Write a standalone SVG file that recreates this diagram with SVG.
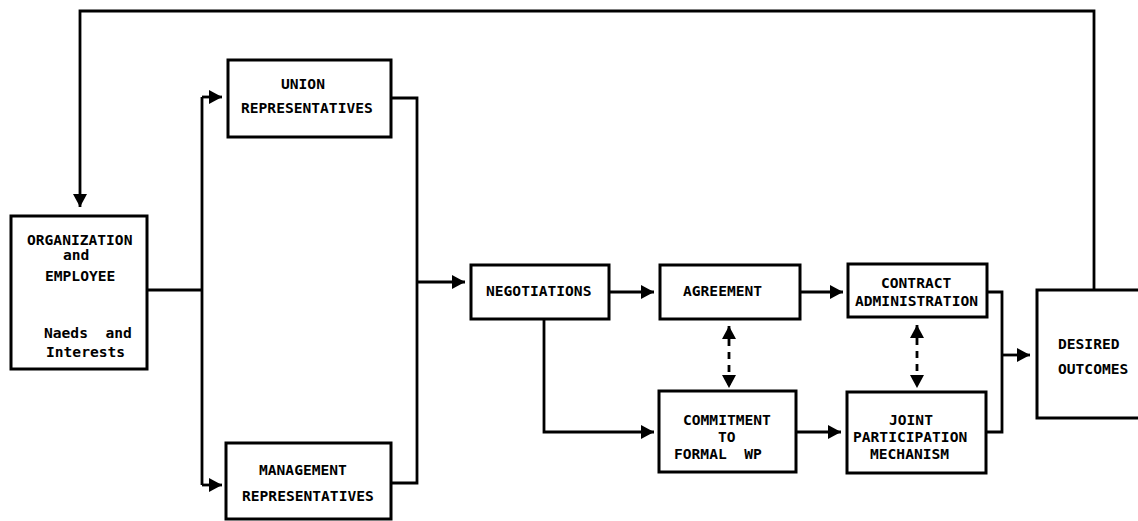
<svg xmlns="http://www.w3.org/2000/svg" width="1138" height="521" viewBox="0 0 1138 521">
<style>
.box{fill:#fff;stroke:#000;stroke-width:3}
.ln{fill:none;stroke:#000;stroke-width:2.8}
.dash{fill:none;stroke:#000;stroke-width:2.8;stroke-dasharray:7 6}
text{font-family:"DejaVu Sans Mono","Liberation Mono",monospace;font-weight:bold;font-size:14.6px;fill:#000}
</style>
<defs>
<marker id="arr" markerUnits="userSpaceOnUse" markerWidth="16" markerHeight="16" refX="13" refY="7" orient="auto-start-reverse">
<path d="M0,0 L13,7 L0,14 z" fill="#000"/>
</marker>
</defs>
<rect width="1138" height="521" fill="#fff"/>
<g id="connectors">
<path class="ln" d="M1094,290 V11 H80 V207" marker-end="url(#arr)"/>
<path class="ln" d="M147,290 H202"/>
<path class="ln" d="M202,97 V485"/>
<path class="ln" d="M202,97 H222" marker-end="url(#arr)"/>
<path class="ln" d="M202,485 H222" marker-end="url(#arr)"/>
<path class="ln" d="M391,98 H417 V483 H391"/>
<path class="ln" d="M417,282 H465" marker-end="url(#arr)"/>
<path class="ln" d="M609,292 H654" marker-end="url(#arr)"/>
<path class="ln" d="M544,319 V432 H654" marker-end="url(#arr)"/>
<path class="ln" d="M800,292 H843" marker-end="url(#arr)"/>
<path class="ln" d="M796,432 H841" marker-end="url(#arr)"/>
<path class="dash" d="M729,326 V388" marker-start="url(#arr)" marker-end="url(#arr)"/>
<path class="dash" d="M917,325 V388" marker-start="url(#arr)" marker-end="url(#arr)"/>
<path class="ln" d="M987,292 H1002 V432 H986"/>
<path class="ln" d="M1002,355 H1030" marker-end="url(#arr)"/>
</g>
<g id="org">
<rect class="box" x="11" y="216" width="136" height="153"/>
<text x="27" y="245">ORGANIZATION</text>
<text x="63" y="260">and</text>
<text x="45" y="281">EMPLOYEE</text>
<text x="44" y="338" xml:space="preserve">Naeds  and</text>
<text x="46" y="357">Interests</text>
</g>
<g id="union">
<rect class="box" x="228" y="60" width="163" height="77"/>
<text x="281" y="89">UNION</text>
<text x="241" y="113">REPRESENTATIVES</text>
</g>
<g id="management">
<rect class="box" x="226" y="443" width="165" height="76"/>
<text x="259" y="475">MANAGEMENT</text>
<text x="242" y="501">REPRESENTATIVES</text>
</g>
<g id="negotiations">
<rect class="box" x="471" y="265" width="138" height="54"/>
<text x="486" y="296">NEGOTIATIONS</text>
</g>
<g id="agreement">
<rect class="box" x="660" y="265" width="140" height="54"/>
<text x="683" y="296">AGREEMENT</text>
</g>
<g id="commitment">
<rect class="box" x="659" y="391" width="137" height="81"/>
<text x="683" y="425">COMMITMENT</text>
<text x="718" y="442">TO</text>
<text x="674" y="459" xml:space="preserve">FORMAL  WP</text>
</g>
<g id="contract">
<rect class="box" x="848" y="264" width="139" height="53"/>
<text x="881" y="288">CONTRACT</text>
<text x="855" y="306">ADMINISTRATION</text>
</g>
<g id="joint">
<rect class="box" x="847" y="392" width="139" height="81"/>
<text x="889" y="425">JOINT</text>
<text x="853" y="442">PARTICIPATION</text>
<text x="870" y="459">MECHANISM</text>
</g>
<g id="outcomes">
<rect class="box" x="1037" y="290" width="120" height="128"/>
<text x="1058" y="349">DESIRED</text>
<text x="1058" y="374">OUTCOMES</text>
</g>
</svg>
